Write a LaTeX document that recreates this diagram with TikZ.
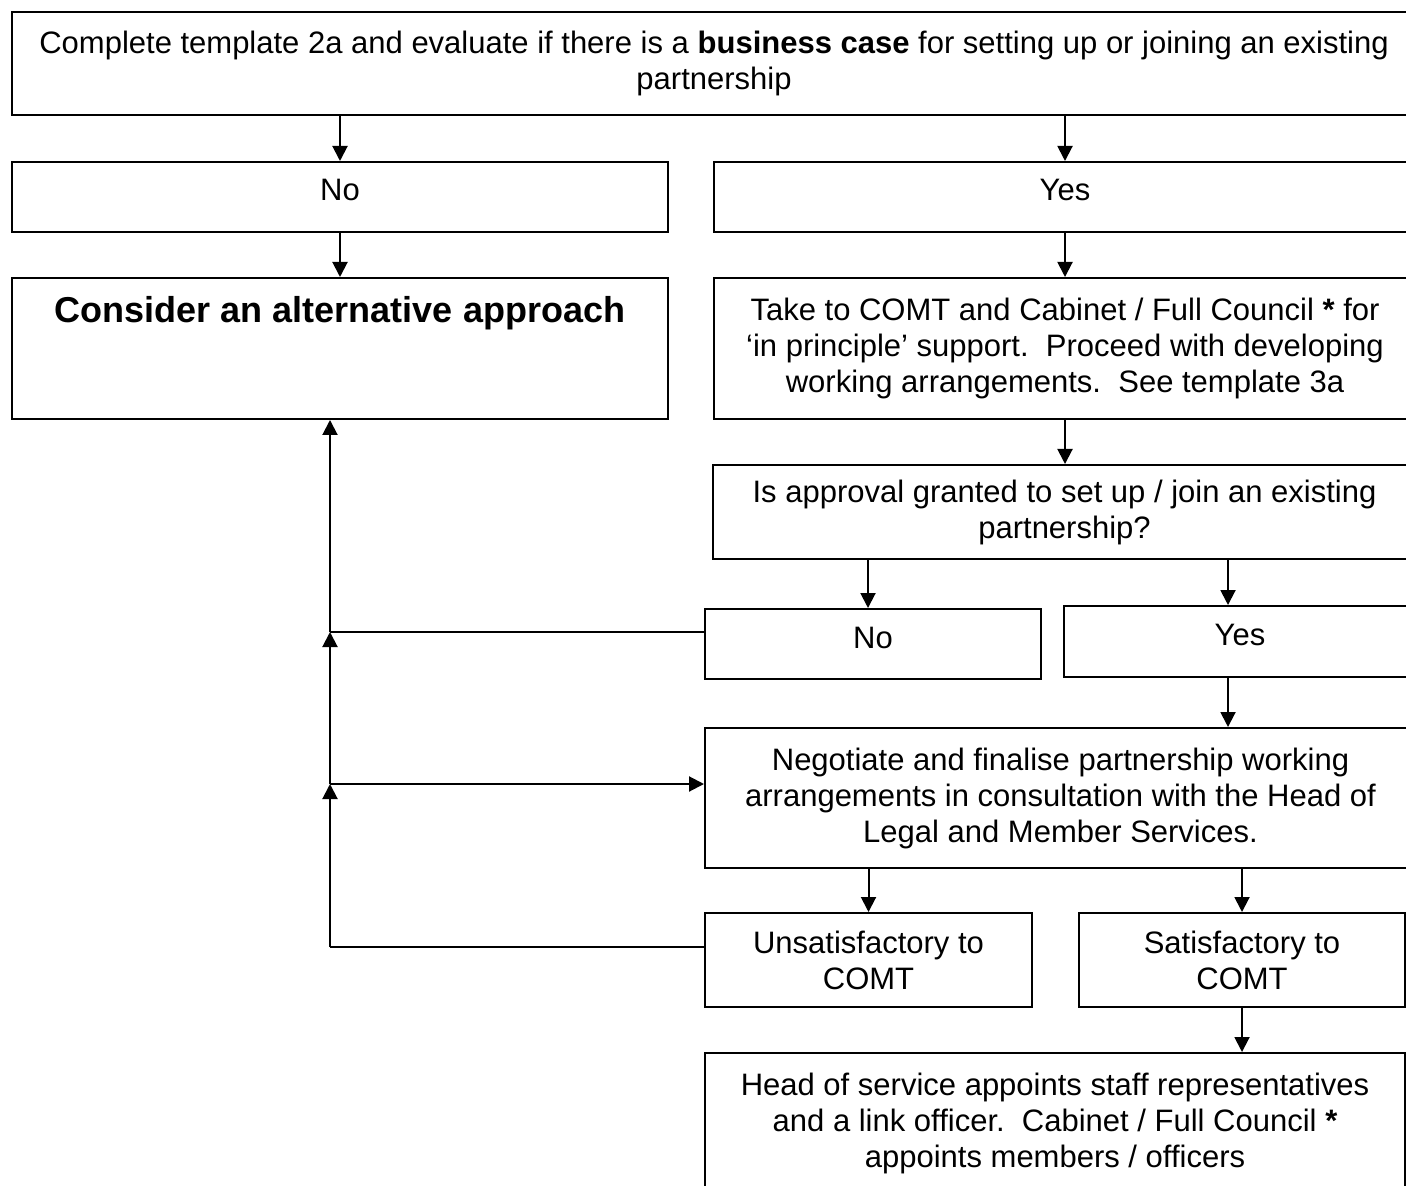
\documentclass[tikz,border=0pt]{standalone}
\usepackage{fontspec}
\setmainfont{Liberation Sans}
\usetikzlibrary{arrows.meta}

\begin{document}
\begin{tikzpicture}[x=0.5pt, y=-0.5pt,
    flowbox/.style={draw, line width=1pt, anchor=north west, inner sep=0pt, align=center,
        font=\fontsize{15.5}{18}\selectfont},
    answer/.style={flowbox, text height=19.5pt, text depth=15.5pt},
    arr/.style={line width=1pt, -{Triangle[length=7.5pt, width=7.5pt]}},
    link/.style={line width=1pt}]
    \clip (0, 0) rectangle (1406, 1186);

    \node[flowbox, minimum width=702pt, minimum height=51.5pt] (start) at (11, 11) {Complete template 2a and evaluate if there is a \textbf{business case} for setting up or joining an existing\\partnership};

    \node[answer, minimum width=328pt] (no1) at (11, 161) {No};
    \node[answer, minimum width=351pt] (yes1) at (713, 161) {Yes};

    \node[flowbox, minimum width=328pt, text height=22.5pt, text depth=48pt,
        font=\fontsize{18}{21}\selectfont\bfseries] (consider) at (11, 277) {Consider an alternative approach};
    \node[flowbox, minimum width=351pt, minimum height=70.5pt] (take) at (713, 277) {Take to COMT and Cabinet / Full Council \textbf{*} for\\‘in principle’ support.\ \ Proceed with developing\\working arrangements.\ \ See template 3a};

    \node[flowbox, minimum width=351.5pt, minimum height=47pt] (approve) at (712, 464) {Is approval granted to set up / join an existing\\partnership?};

    \node[answer, minimum width=168pt] (no2) at (704, 608) {No};
    \node[answer, minimum width=176pt, text depth=16pt] (yes2) at (1063, 605) {Yes};

    \node[flowbox, minimum width=355.5pt, minimum height=70pt] (negotiate) at (704, 727) {Negotiate and finalise partnership working\\arrangements in consultation with the Head of\\Legal and Member Services.};

    \node[flowbox, minimum width=163.5pt, minimum height=47pt] (unsat) at (704, 912) {Unsatisfactory to\\COMT};
    \node[flowbox, minimum width=163pt, minimum height=47pt] (sat) at (1078, 912) {Satisfactory to\\COMT};

    \node[flowbox, minimum width=350pt, minimum height=70pt] (head) at (704, 1052) {Head of service appoints staff representatives\\and a link officer.\ \ Cabinet / Full Council \textbf{*}\\appoints members / officers};

    % way back to the alternative approach
    \coordinate (backNo) at (330, 632);
    \coordinate (backMid) at (330, 784);
    \coordinate (backLow) at (330, 947);

    \draw[arr] (no1.north |- start.south) -- (no1.north);
    \draw[arr] (yes1.north |- start.south) -- (yes1.north);
    \draw[arr] (no1.south) -- (consider.north);
    \draw[arr] (yes1.south) -- (take.north);
    \draw[arr] (take.south) -- (take.south |- approve.north);
    \draw[arr] ([xshift=-2.5pt]no2.north |- approve.south) -- ([xshift=-2.5pt]no2.north);
    \draw[arr] ([xshift=-6pt]yes2.north |- approve.south) -- ([xshift=-6pt]yes2.north);
    \draw[arr] ([xshift=-6pt]yes2.south) -- ([xshift=-6pt]yes2.south |- negotiate.north);
    \draw[arr] (unsat.north |- negotiate.south) -- (unsat.north);
    \draw[arr] (sat.north |- negotiate.south) -- (sat.north);
    \draw[arr] (sat.south) -- (sat.south |- head.north);

    \draw[link] (unsat.west |- backLow) -- (backLow);
    \draw[arr] (backLow) -- (backMid);
    \draw[arr] (backMid) -- (negotiate.west |- backMid);
    \draw[arr] (backMid) -- (backNo);
    \draw[link] (no2.west |- backNo) -- (backNo);
    \draw[arr] (backNo) -- (backNo |- consider.south);
\end{tikzpicture}
\end{document}
